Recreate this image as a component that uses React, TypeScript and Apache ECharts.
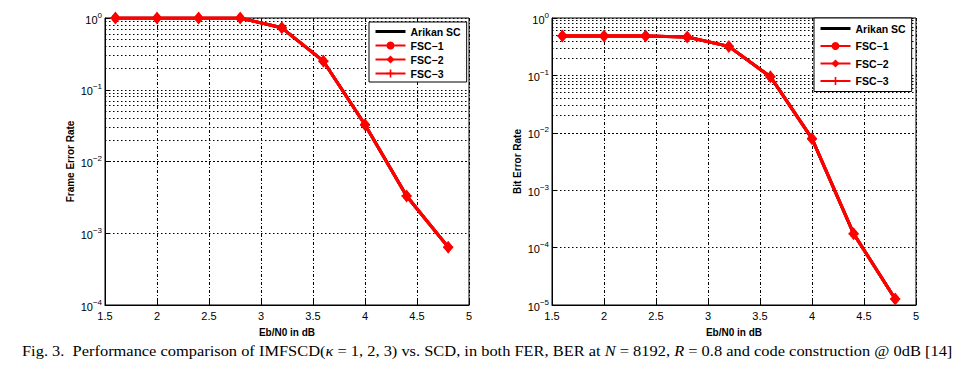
import { useEffect, useRef } from "react";
import * as echarts from "echarts";

const ebN0 = [1.6, 2.0, 2.4, 2.8, 3.2, 3.6, 4.0, 4.4, 4.8];
const ferArikan = [1, 1, 1, 1, 0.73, 0.25, 0.0325, 0.0033, 0.00064];
const ferFsc1 = [1, 1, 1, 1, 0.73, 0.25, 0.0325, 0.0033, 0.00064];
const ferFsc2 = [1, 1, 1, 1, 0.73, 0.25, 0.0325, 0.0033, 0.00064];
const ferFsc3 = [1, 1, 1, 1, 0.73, 0.25, 0.0325, 0.0033, 0.00064];
const berArikan = [0.485, 0.485, 0.485, 0.468, 0.32, 0.095, 0.0079, 0.000175, 0.0000127];
const berFsc1 = [0.485, 0.485, 0.485, 0.468, 0.32, 0.095, 0.0079, 0.000175, 0.0000127];
const berFsc2 = [0.485, 0.485, 0.485, 0.468, 0.32, 0.095, 0.0079, 0.000175, 0.0000127];
const berFsc3 = [0.485, 0.485, 0.485, 0.468, 0.32, 0.095, 0.0079, 0.000175, 0.0000127];
const seriesNames = ["Arikan SC", "FSC\u22121", "FSC\u22122", "FSC\u22123"];
const yNames = ["Frame Error Rate", "Bit Error Rate"];
const xName = "Eb/N0 in dB";

const SANS = "'Liberation Sans', Arial, sans-serif";
const SERIF = "'Liberation Serif', 'Times New Roman', serif";
const PLUS = "path://M4,0 L6,0 L6,4 L10,4 L10,6 L6,6 L6,10 L4,10 L4,6 L0,6 L0,4 L4,4 Z";

function minorValues(minExp: number, maxExp: number) {
  const out: number[] = [];
  for (let e = minExp; e < maxExp; e++) {
    for (let m = 2; m <= 9; m++) out.push(m * Math.pow(10, e));
  }
  return out;
}

export default function App() {
  const ref = useRef<HTMLDivElement>(null);
  useEffect(() => {
    if (!ref.current) return;
    const chart = echarts.init(ref.current, undefined, { renderer: "svg" });
    const grids = [
      { left: 105, top: 18, width: 364, height: 287 },
      { left: 552, top: 18, width: 364, height: 287 },
    ];
    const yMin = [1e-4, 1e-5];
    const dataSets = [
      [ferArikan, ferFsc1, ferFsc2, ferFsc3],
      [berArikan, berFsc1, berFsc2, berFsc3],
    ];
    const series: any[] = [];
    [0, 1].forEach((g) => {
      const minExp = Math.round(Math.log10(yMin[g]));
      series.push({
        type: "line",
        name: "grid" + g,
        xAxisIndex: g,
        yAxisIndex: g,
        data: [],
        z: 1,
        silent: true,
        symbol: "none",
        lineStyle: { opacity: 0 },
        markLine: {
          silent: true,
          symbol: ["none", "none"],
          label: { show: false },
          animation: false,
          lineStyle: { color: "#000", width: 1, type: [1.5, 2.5] },
          emphasis: { disabled: true },
          data: minorValues(minExp, 0).map((v) => ({ yAxis: v })),
        },
      });
      const styles = [
        { color: "#000", symbol: "none", symbolSize: 0 },
        { color: "#ff0000", symbol: "circle", symbolSize: 8 },
        { color: "#ff0000", symbol: "diamond", symbolSize: [10, 13] },
        { color: "#ff0000", symbol: PLUS, symbolSize: 10 },
      ];
      styles.forEach((s, i) => {
        series.push({
          type: "line",
          name: seriesNames[i],
          xAxisIndex: g,
          yAxisIndex: g,
          data: ebN0.map((x, k) => [x, dataSets[g][i][k]]),
          symbol: s.symbol,
          symbolSize: s.symbolSize,
          showAllSymbol: true,
          lineStyle: { color: s.color, width: 3 },
          itemStyle: { color: s.color },
          emphasis: { disabled: true },
          z: 3 + i,
        });
      });
    });

    const legendData = seriesNames.map((n, i) =>
      i === 0 ? { name: n, itemStyle: { opacity: 0 }, lineStyle: { color: "#000", width: 3 } } : { name: n }
    );

    const legendBase = {
      orient: "vertical",
      data: legendData,
      borderColor: "#000",
      borderWidth: 1,
      backgroundColor: "#fff",
      itemWidth: 30,
      itemHeight: 10,
      itemGap: 3,
      z: 50,
      selectedMode: false,
      textStyle: { fontFamily: SANS, fontWeight: "bold", fontSize: 10.5, color: "#000" },
    };

    chart.setOption({
      animation: false,
      backgroundColor: "#fff",
      grid: grids.map((g) => ({ ...g, show: true, borderColor: "#000", borderWidth: 1, backgroundColor: "#fff" })),
      legend: [
        { ...legendBase, left: 369, top: 22, padding: [4, 6, 3, 5] },
        { ...legendBase, left: 814, top: 18, padding: [5, 6, 5, 5], itemGap: 6.5 },
      ],
      xAxis: [0, 1].map((g) => ({
        type: "value",
        gridIndex: g,
        min: 1.5,
        max: 5,
        interval: 0.5,
        name: xName,
        nameLocation: "middle",
        nameGap: 22,
        nameTextStyle: { fontFamily: SANS, fontWeight: "bold", fontSize: 10, color: "#000" },
        axisLine: { show: true, lineStyle: { color: "#000", width: 1 } },
        axisTick: { show: true, inside: true, length: 4, lineStyle: { color: "#000" } },
        axisLabel: { fontFamily: SANS, fontSize: 11, color: "#000", margin: 5 },
        splitLine: { show: true, lineStyle: { color: "#000", width: 1, type: [3, 2, 1, 2] } },
      })),
      yAxis: [0, 1].map((g) => ({
        type: "log",
        logBase: 10,
        gridIndex: g,
        min: yMin[g],
        max: 1,
        name: yNames[g],
        nameLocation: "middle",
        nameGap: 30,
        nameTextStyle: { fontFamily: SANS, fontWeight: "bold", fontSize: 10, color: "#000" },
        axisLine: { show: true, lineStyle: { color: "#000", width: 1 } },
        axisTick: { show: true, inside: true, length: 4, lineStyle: { color: "#000" } },
        axisLabel: {
          margin: 3,
          color: "#000",
          formatter: (v: number) => {
            const e = Math.round(Math.log10(v));
            return "{n|10}{s|" + (e < 0 ? "\u2212" + -e : String(e)) + "}";
          },
          rich: {
            n: { fontFamily: SANS, fontSize: 11, color: "#000", verticalAlign: "bottom", lineHeight: 14 },
            s: { fontFamily: SANS, fontSize: 8, color: "#000", verticalAlign: "top", lineHeight: 14, padding: [0, 0, 6, 0] },
          },
        },
        splitLine: { show: true, lineStyle: { color: "#000", width: 1, type: [1.5, 2.5] } },
      })),
      series,
      graphic: [
        {
          type: "text",
          left: 22,
          top: 344,
          scaleX: 1.172,
          silent: true,
          style: {
            text:
              "{r|Fig. 3.  Performance comparison of IMFSCD(}{i|\u03ba}{r| = 1, 2, 3) vs. SCD, in both FER, BER at }{i|N}{r| = 8192, }{i|R}{r| = 0.8 and code construction @ 0dB [14]}",
            rich: {
              r: { fontFamily: SERIF, fontSize: 14, fill: "#000" },
              i: { fontFamily: SERIF, fontSize: 14, fontStyle: "italic", fill: "#000" },
            },
          },
        },
      ],
    });
    return () => chart.dispose();
  }, []);
  return (
    <div
      ref={ref}
      style={{ position: "fixed", left: 0, top: 0, width: 971, height: 366, background: "#fff" }}
    />
  );
}
